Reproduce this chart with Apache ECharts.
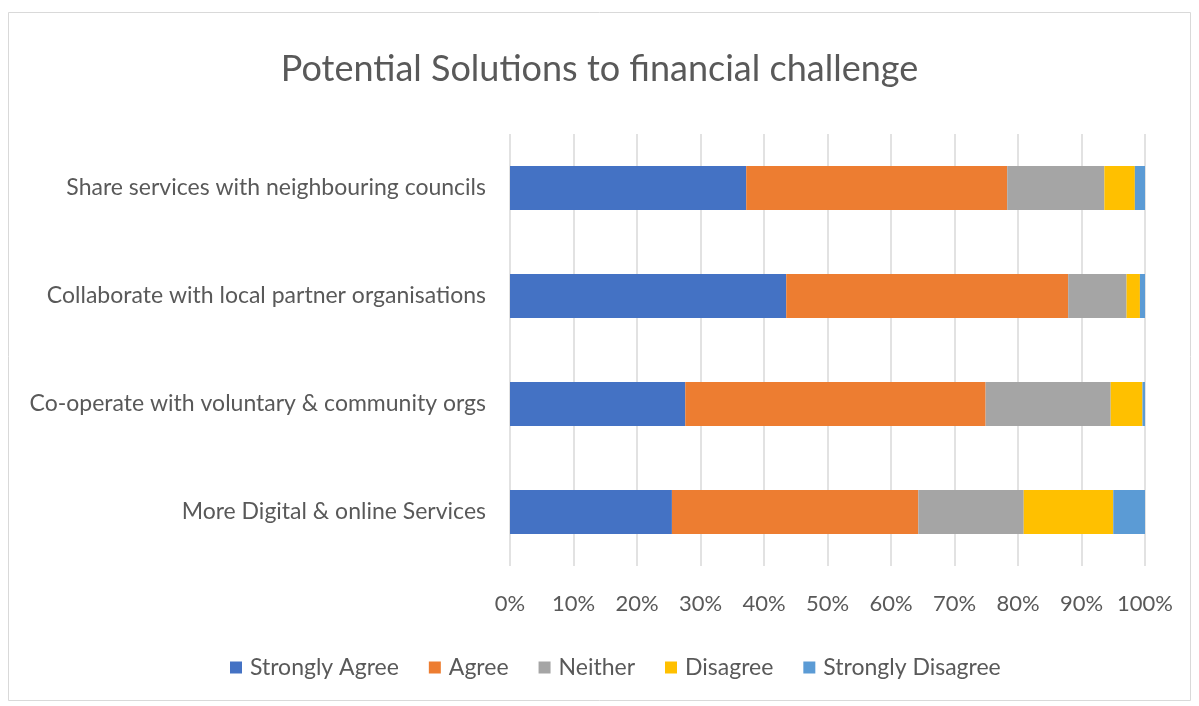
<!DOCTYPE html>
<html><head><meta charset="utf-8">
<script src="https://cdn.jsdelivr.net/npm/echarts@6/dist/echarts.min.js"></script>
<style>html,body{margin:0;padding:0;background:#fff}#c{width:1199px;height:706px}</style>
</head><body><div id="c"></div>
<script>
var categories = ["More Digital & online Services","Co-operate with voluntary & community orgs","Collaborate with local partner organisations","Share services with neighbouring councils"];
var stronglyAgree = [25.5, 27.6, 43.5, 37.2];
var agree = [38.8, 47.3, 44.4, 41.1];
var neither = [16.6, 19.7, 9.2, 15.3];
var disagree = [14.1, 5.0, 2.1, 4.8];
var stronglyDisagree = [5.0, 0.4, 0.8, 1.6];
var seriesNames = ["Strongly Agree","Agree","Neither","Disagree","Strongly Disagree"];
var colors = ["#4472c4","#ed7d31","#a5a5a5","#ffc000","#5b9bd5"];
var FONT = "Lato";
var dataSets = [stronglyAgree, agree, neither, disagree, stronglyDisagree];
var chart = echarts.init(document.getElementById('c'));
chart.setOption({
  animation:false,
  backgroundColor:'#fff',
  color: colors,
  title:{text:'Potential Solutions to financial challenge', left:'center', top:46,
    textStyle:{fontFamily:FONT, fontSize:36, fontWeight:'normal', color:'#595959'}},
  graphic:[{type:'rect', shape:{x:8.5,y:12.5,width:1182,height:688}, style:{fill:'none', stroke:'#d9d9d9', lineWidth:1}, silent:true}],
  legend:{bottom:22, left:225, itemWidth:12, itemHeight:12, itemGap:30, icon:'rect',
    textStyle:{fontFamily:FONT, fontSize:23, color:'#595959', padding:[0,0,0,3]}, data:seriesNames},
  grid:{left:510, right:54, top:134, bottom:140, containLabel:false},
  xAxis:{type:'value', min:0, max:100, interval:10,
    axisLabel:{formatter:'{value}%', fontFamily:FONT, fontSize:22, color:'#595959', margin:27},
    axisLine:{show:false}, axisTick:{show:false},
    splitLine:{show:true, lineStyle:{color:'#d9d9d9', width:1.5}}},
  yAxis:{type:'category', data:categories,
    axisLabel:{fontFamily:FONT, fontSize:23, color:'#595959', margin:24},
    axisLine:{show:false}, axisTick:{show:false}},
  series: seriesNames.map(function(n,i){return {name:n, type:'bar', stack:'t', barWidth:44, data:dataSets[i]};})
});
</script></body></html>
